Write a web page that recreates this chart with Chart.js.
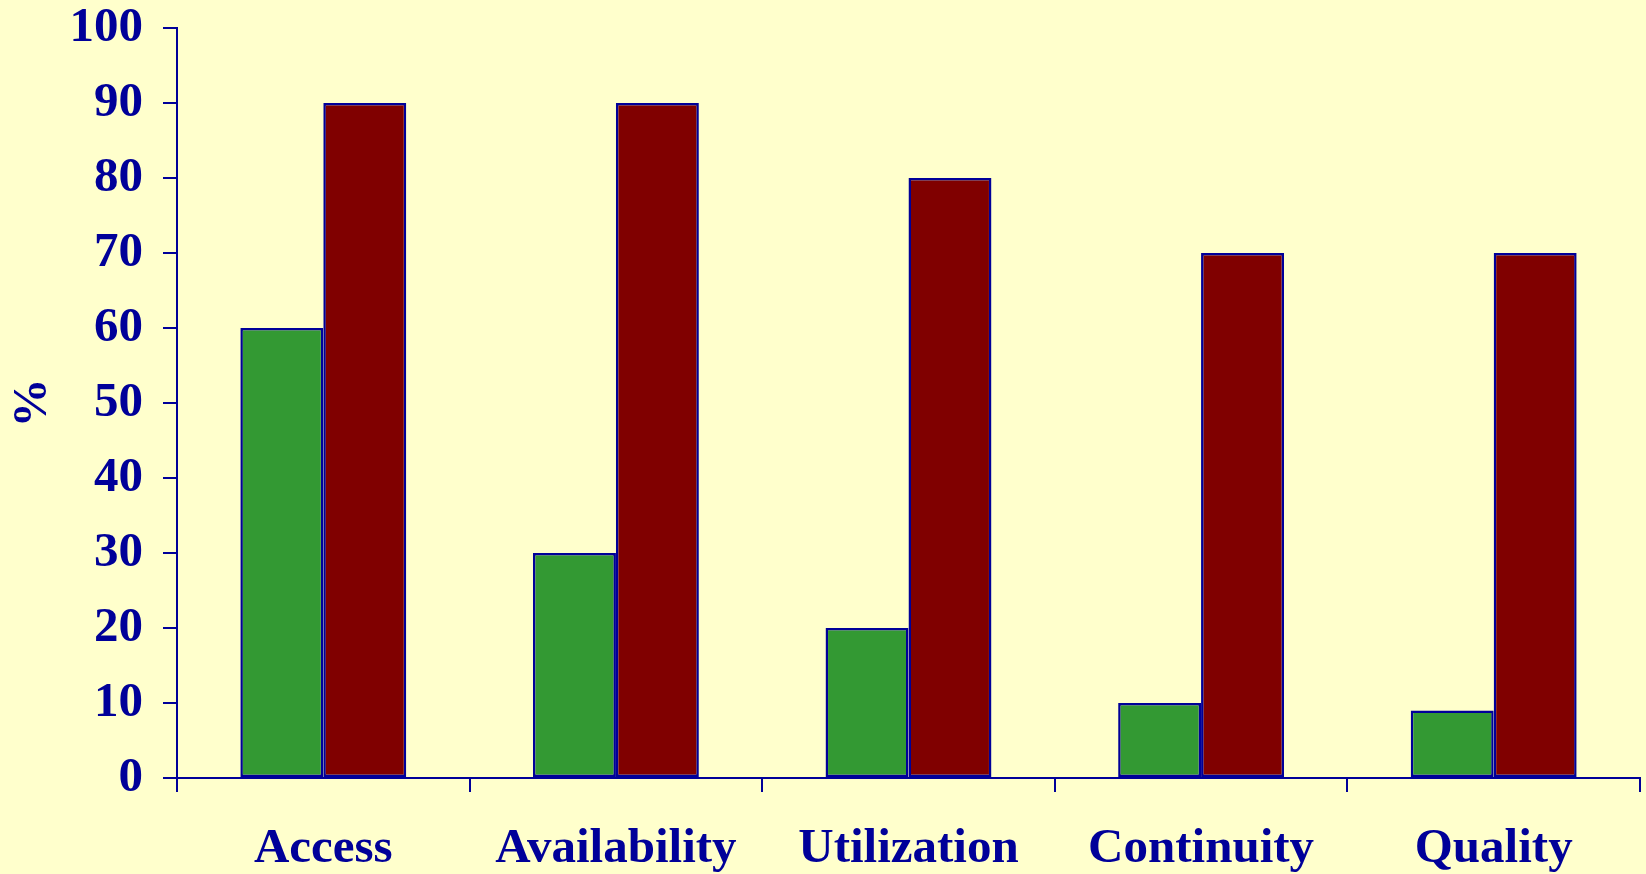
<!DOCTYPE html>
<html>
<head>
<meta charset="utf-8">
<script src="https://cdn.jsdelivr.net/npm/chart.js@4/dist/chart.umd.min.js"></script>
<style>
  html, body { margin: 0; padding: 0; background: #ffffcc; }
  #wrap { width: 1646px; height: 874px; position: relative; }
</style>
</head>
<body>
<div id="wrap"><canvas id="barChart"></canvas></div>
<script>
// Categories and the two series (%)
const categories = ["Access", "Availability", "Utilization", "Continuity", "Quality"];
const greenValues = [60, 30, 20, 10, 9];
const redValues = [90, 90, 80, 70, 70];

const navy = "#000099";
const labelFont = { family: "'Liberation Serif', 'Times New Roman', serif", size: 49, weight: "bold" };

new Chart(document.getElementById("barChart"), {
  type: "bar",
  data: {
    labels: categories,
    datasets: [
      {
        data: greenValues,
        backgroundColor: "#339933",
        borderColor: navy,
        borderWidth: 2.5,
        borderSkipped: false
      },
      {
        data: redValues,
        backgroundColor: "#800000",
        borderColor: navy,
        borderWidth: 2.5,
        borderSkipped: false
      }
    ]
  },
  options: {
    responsive: true,
    maintainAspectRatio: false,
    animation: false,
    layout: { padding: { top: 0, right: 6, left: 0, bottom: 0 } },
    datasets: {
      bar: { categoryPercentage: 0.567, barPercentage: 1.0 }
    },
    scales: {
      x: {
        offset: true,
        grid: {
          offset: true,
          drawOnChartArea: false,
          drawTicks: true,
          tickLength: 14,
          color: navy,
          lineWidth: 2
        },
        border: { color: navy, width: 2 },
        ticks: { color: navy, font: labelFont, padding: 28, maxRotation: 0 },
        afterFit: (scale) => {
          scale.height = 96;
          scale.paddingLeft = 0;
          scale.paddingRight = 0;
        }
      },
      y: {
        min: 0,
        max: 100,
        grid: {
          drawOnChartArea: false,
          drawTicks: true,
          tickLength: 14,
          color: navy,
          lineWidth: 2
        },
        border: { color: navy, width: 2 },
        ticks: { stepSize: 10, color: navy, font: labelFont, padding: 20 },
        title: { display: true, text: "%", color: navy, font: labelFont, padding: { top: 4, bottom: 0 } },
        afterFit: (scale) => {
          scale.width = 177;
          scale.paddingTop = 28;
          scale.paddingBottom = 0;
        }
      }
    },
    plugins: {
      legend: { display: false },
      tooltip: { enabled: false }
    }
  }
});
</script>
</body>
</html>
